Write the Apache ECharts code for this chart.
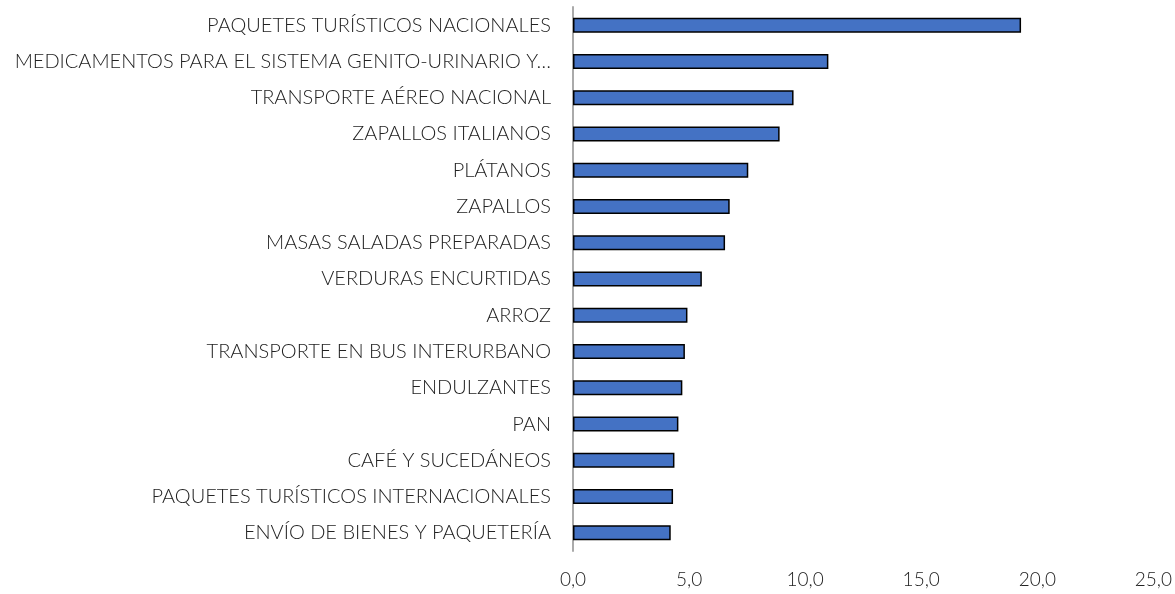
<html>
<head>
    <meta charset="utf-8">
    <script type="text/javascript" src="https://cdn.jsdelivr.net/npm/echarts@6/dist/echarts.min.js"></script>
</head>
<body style="margin:0; background:#fff;">
<div id="main" style="height:594px; width:1175px"></div>
<script>
    var categories = [
        'PAQUETES TURÍSTICOS NACIONALES',
        'MEDICAMENTOS PARA EL SISTEMA GENITO-URINARIO Y…',
        'TRANSPORTE AÉREO NACIONAL',
        'ZAPALLOS ITALIANOS',
        'PLÁTANOS',
        'ZAPALLOS',
        'MASAS SALADAS PREPARADAS',
        'VERDURAS ENCURTIDAS',
        'ARROZ',
        'TRANSPORTE EN BUS INTERURBANO',
        'ENDULZANTES',
        'PAN',
        'CAFÉ Y SUCEDÁNEOS',
        'PAQUETES TURÍSTICOS INTERNACIONALES',
        'ENVÍO DE BIENES Y PAQUETERÍA'
    ];
    var values = [19.3, 11.0, 9.5, 8.9, 7.55, 6.75, 6.55, 5.55, 4.93, 4.82, 4.71, 4.54, 4.37, 4.31, 4.21];

    var myChart = echarts.init(document.getElementById('main'));
    var font = 'Lato, "Open Sans", sans-serif';
    var option = {
        animation: false,
        grid: { left: 573, right: 20, top: 7, bottom: 43, containLabel: false },
        xAxis: {
            type: 'value',
            min: 0, max: 25, interval: 5,
            axisLine: { show: false },
            axisTick: { show: false },
            splitLine: { show: false },
            axisLabel: {
                margin: 19,
                color: '#222',
                fontFamily: font,
                fontWeight: 300,
                fontSize: 19,
                formatter: function (v) { return v.toFixed(1).replace('.', ','); }
            }
        },
        yAxis: {
            type: 'category',
            inverse: true,
            data: categories,
            axisLine: { show: true, lineStyle: { color: '#aaaaaa', width: 2 } },
            axisTick: { show: false },
            axisLabel: {
                margin: 22,
                color: '#222',
                fontFamily: font,
                fontWeight: 300,
                fontSize: 20
            }
        },
        series: [{
            type: 'bar',
            data: values,
            barWidth: 15,
            itemStyle: { color: '#4472C4', borderColor: '#000', borderWidth: 1.5 }
        }]
    };
    myChart.setOption(option);
</script>
</body>
</html>
